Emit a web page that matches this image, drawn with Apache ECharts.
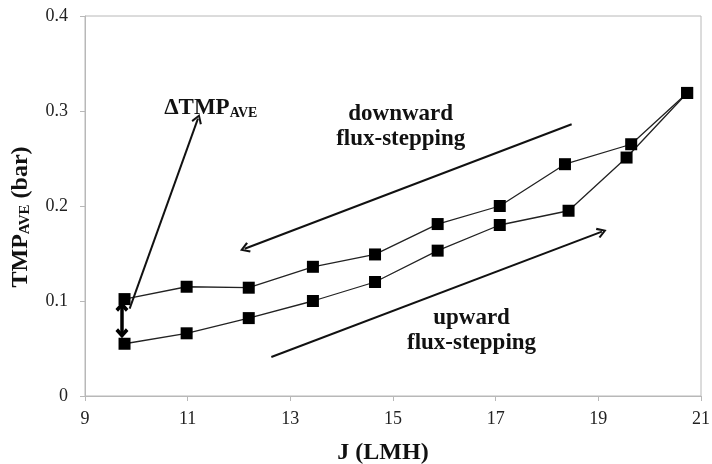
<!DOCTYPE html>
<html>
<head>
<meta charset="utf-8">
<script src="https://cdn.jsdelivr.net/npm/echarts@6/dist/echarts.min.js"></script>
<style>
  html, body { margin: 0; padding: 0; background: #fff; }
  #chart { width: 712px; height: 464px; }
</style>
</head>
<body>
<div id="chart"></div>
<script>
// flux (LMH) and average TMP (bar)
const fluxUp = [9.77, 10.98, 12.19, 13.44, 14.65, 15.87, 17.08, 18.42, 19.55, 20.73]
const tmpUp = [0.055, 0.066, 0.082, 0.100, 0.120, 0.153, 0.180, 0.195, 0.251, 0.319]
const fluxDown = [9.77, 10.98, 12.19, 13.44, 14.65, 15.87, 17.08, 18.35, 19.64, 20.73]
const tmpDown = [0.102, 0.115, 0.114, 0.136, 0.149, 0.181, 0.200, 0.244, 0.265, 0.319]
const xTicks = [9, 11, 13, 15, 17, 19, 21]
const yTicks = [0, 0.1, 0.2, 0.3, 0.4]

// annotation arrows, [from, to] in data coords
const arrowDelta = [[9.87, 0.092], [11.2, 0.292]]
const arrowDown = [[18.48, 0.286], [12.11, 0.155]]
const arrowUp = [[12.63, 0.041], [19.07, 0.173]]
const gapArrow = [[9.72, 0.094], [9.72, 0.066]]

const serif = '"Liberation Serif", "Times New Roman", serif'
const ink = '#111'
// open arrow heads (chevrons), tip at top
const openHead = 'path://M5,0 L10,8.2 L8.4,9.4 L5,3.4 L1.6,9.4 L0,8.2 Z'
const boldHead = 'path://M5,0 L10,5.5 L8,7.5 L5,4.2 L2,7.5 L0,5.5 Z'

const chart = echarts.init(document.getElementById('chart'))

const pts = (xs, ys) => xs.map((x, i) => [x, ys[i]])

const noteStyle = {
  fontFamily: serif,
  fontWeight: 'bold',
  fontSize: 23,
  color: ink,
  lineHeight: 25,
  align: 'center'
}

const option = {
  animation: false,
  backgroundColor: '#fff',
  grid: {
    left: 85,
    right: 11,
    top: 16,
    bottom: 68,
    outerBoundsMode: 'none',
    containLabel: false,
    show: true,
    borderColor: '#b8b8b8',
    borderWidth: 1
  },
  xAxis: {
    type: 'value',
    min: 9,
    max: 21,
    interval: 2,
    name: 'J (LMH)',
    nameLocation: 'middle',
    nameGap: 45,
    nameTextStyle: {
      fontFamily: serif, fontWeight: 'bold', fontSize: 24, color: ink,
      padding: [0, 20, 0, 0]
    },
    axisLine: { lineStyle: { color: '#b8b8b8' } },
    axisTick: { show: true, length: 5, lineStyle: { color: '#b8b8b8' } },
    axisLabel: {
      margin: 14,
      fontFamily: serif,
      fontSize: 18,
      color: '#222',
      formatter: v => (xTicks.includes(v) ? String(v) : '')
    },
    splitLine: { show: false }
  },
  yAxis: {
    type: 'value',
    min: 0,
    max: 0.4,
    interval: 0.1,
    name: '{b|TMP}{s|AVE}{b| (bar)}',
    nameLocation: 'middle',
    nameGap: 52,
    nameRotate: 90,
    nameTextStyle: {
      padding: [0, 22, 0, 0],
      rich: {
        b: { fontFamily: serif, fontWeight: 'bold', fontSize: 24, color: ink },
        s: { fontFamily: serif, fontWeight: 'bold', fontSize: 15, color: ink, padding: [10, 0, 0, 0] }
      }
    },
    axisLine: { show: true, lineStyle: { color: '#b8b8b8' } },
    axisTick: { show: true, length: 5, lineStyle: { color: '#b8b8b8' } },
    axisLabel: {
      margin: 17,
      fontFamily: serif,
      fontSize: 18,
      color: '#222',
      formatter: v => {
        const t = yTicks.find(k => Math.abs(k - v) < 1e-9)
        if (t === undefined) return ''
        return t === 0 ? '0' : t.toFixed(1)
      }
    },
    splitLine: { show: false }
  },
  series: [
    {
      name: 'downward',
      type: 'line',
      data: pts(fluxDown, tmpDown),
      symbol: 'rect',
      symbolSize: 12,
      itemStyle: { color: '#000' },
      lineStyle: { color: '#222', width: 1.3 },
      z: 3,
      markLine: {
        silent: true,
        animation: false,
        symbol: ['none', openHead],
        symbolSize: [11, 10],
        lineStyle: { color: ink, width: 2, type: 'solid' },
        label: { show: false },
        data: [
          [{ coord: arrowDelta[0] }, { coord: arrowDelta[1] }],
          [{ coord: arrowDown[0] }, { coord: arrowDown[1] }],
          [{ coord: arrowUp[0] }, { coord: arrowUp[1] }]
        ]
      },
      markPoint: {
        silent: true,
        symbol: 'circle',
        symbolSize: 0,
        data: [
          {
            coord: [11.45, 0.303],
            label: {
              show: true,
              formatter: '{b|ΔTMP}{s|AVE}',
              rich: {
                b: { fontFamily: serif, fontWeight: 'bold', fontSize: 23, color: ink },
                s: { fontFamily: serif, fontWeight: 'bold', fontSize: 14, color: ink, padding: [10, 0, 0, 0] }
              }
            }
          },
          {
            coord: [15.15, 0.284],
            label: Object.assign({ show: true, formatter: 'downward\nflux-stepping' }, noteStyle)
          },
          {
            coord: [16.53, 0.069],
            label: Object.assign({ show: true, formatter: 'upward\nflux-stepping' }, noteStyle)
          }
        ]
      }
    },
    {
      name: 'upward',
      type: 'line',
      data: pts(fluxUp, tmpUp),
      symbol: 'rect',
      symbolSize: 12,
      itemStyle: { color: '#000' },
      lineStyle: { color: '#222', width: 1.3 },
      z: 3,
      markLine: {
        silent: true,
        animation: false,
        z: 10,
        symbol: [boldHead, boldHead],
        symbolSize: [13, 10],
        lineStyle: { color: '#000', width: 3.5, type: 'solid' },
        label: { show: false },
        data: [[{ coord: gapArrow[0] }, { coord: gapArrow[1] }]]
      }
    }
  ]
}

chart.setOption(option)
</script>
</body>
</html>
